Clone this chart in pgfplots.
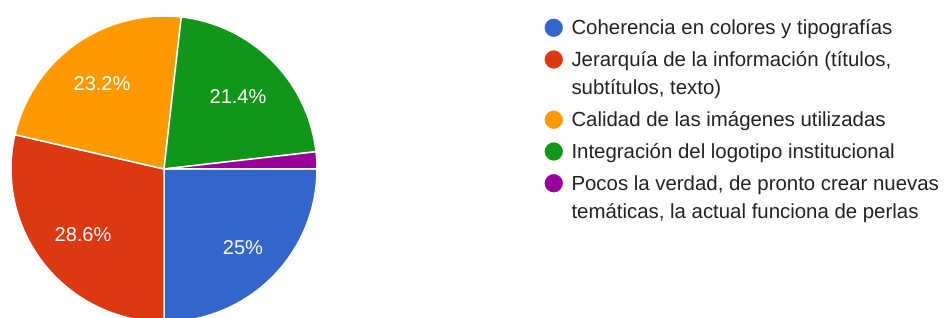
\documentclass[border=0pt]{standalone}
\usepackage{pgfplots}
\pgfplotsset{compat=1.18}
\usepackage{fontspec}
\setmainfont{Liberation Sans}
\definecolor{gblue}{HTML}{3366CC}
\definecolor{gred}{HTML}{DC3912}
\definecolor{gorange}{HTML}{FF9900}
\definecolor{ggreen}{HTML}{109618}
\definecolor{gpurple}{HTML}{990099}
\definecolor{gtext}{HTML}{222222}
% slice values (percent)
\def\vA{25}\def\vB{28.6}\def\vC{23.2}\def\vD{21.4}\def\vE{1.8}
\pgfmathsetmacro\aA{-3.6*\vA}
\pgfmathsetmacro\aB{\aA-3.6*\vB}
\pgfmathsetmacro\aC{\aB-3.6*\vC}
\pgfmathsetmacro\aD{\aC-3.6*\vD}
\pgfmathsetmacro\aE{\aD-3.6*\vE}
\newcommand\ltwo[2]{\vtop{\baselineskip=28.5pt\hbox{#1}\hbox{#2}}}
\pgfplotsset{
  one line/.style={legend image code/.code={\path[draw=none,fill=none] (0pt,-14pt) rectangle (20pt,14pt);\fill (10pt,7pt) circle (10pt);}},
  two line/.style={legend image code/.code={\path[draw=none,fill=none] (0pt,-42.5pt) rectangle (20pt,14pt);\fill (10pt,7pt) circle (10pt);}},
}
\begin{document}
\begin{tikzpicture}
\useasboundingbox (0,0) rectangle (944pt,318pt);
\begin{axis}[
  at={(0,0)}, anchor=south west,
  width=944pt, height=318pt, scale only axis,
  xmin=0, xmax=944, ymin=0, ymax=318,
  hide axis,
  legend style={at={(axis cs:543,301)}, anchor=north west, draw=none, fill=none,
    inner sep=0pt, outer sep=0pt, row sep=0pt, column sep=5pt,
    font=\fontsize{20.4pt}{24pt}\selectfont\color{gtext},
    cells={anchor=base west, inner sep=0pt, outer sep=0pt}},
  every axis plot/.append style={draw=white, line width=1.5pt, samples=120, variable=\t},
]
\addplot[fill=gblue, one line, domain=0:\aA] ({164+153*cos(\t)},{149+153*sin(\t)}) -- (axis cs:164,149) -- cycle;
\addlegendentry{Coherencia en colores y tipografías}
\addplot[fill=gred, two line, domain=\aA:\aB] ({164+153*cos(\t)},{149+153*sin(\t)}) -- (axis cs:164,149) -- cycle;
\addlegendentry{\ltwo{Jerarquía de la información (títulos,}{subtítulos, texto)}}
\addplot[fill=gorange, one line, domain=\aB:\aC] ({164+153*cos(\t)},{149+153*sin(\t)}) -- (axis cs:164,149) -- cycle;
\addlegendentry{Calidad de las imágenes utilizadas}
\addplot[fill=ggreen, one line, domain=\aC:\aD] ({164+153*cos(\t)},{149+153*sin(\t)}) -- (axis cs:164,149) -- cycle;
\addlegendentry{Integración del logotipo institucional}
\addplot[fill=gpurple, two line, domain=\aD:\aE] ({164+153*cos(\t)},{149+153*sin(\t)}) -- (axis cs:164,149) -- cycle;
\addlegendentry{\ltwo{Pocos la verdad, de pronto crear nuevas}{temáticas, la actual funciona de perlas}}
\begin{scope}[every node/.style={text=white, font=\fontsize{20pt}{24pt}\selectfont}]
\node at (axis cs:243,70) {25\%};
\node at (axis cs:83,83) {28.6\%};
\node at (axis cs:102,234) {23.2\%};
\node at (axis cs:238,221) {21.4\%};
\end{scope}
\end{axis}
\end{tikzpicture}
\end{document}
